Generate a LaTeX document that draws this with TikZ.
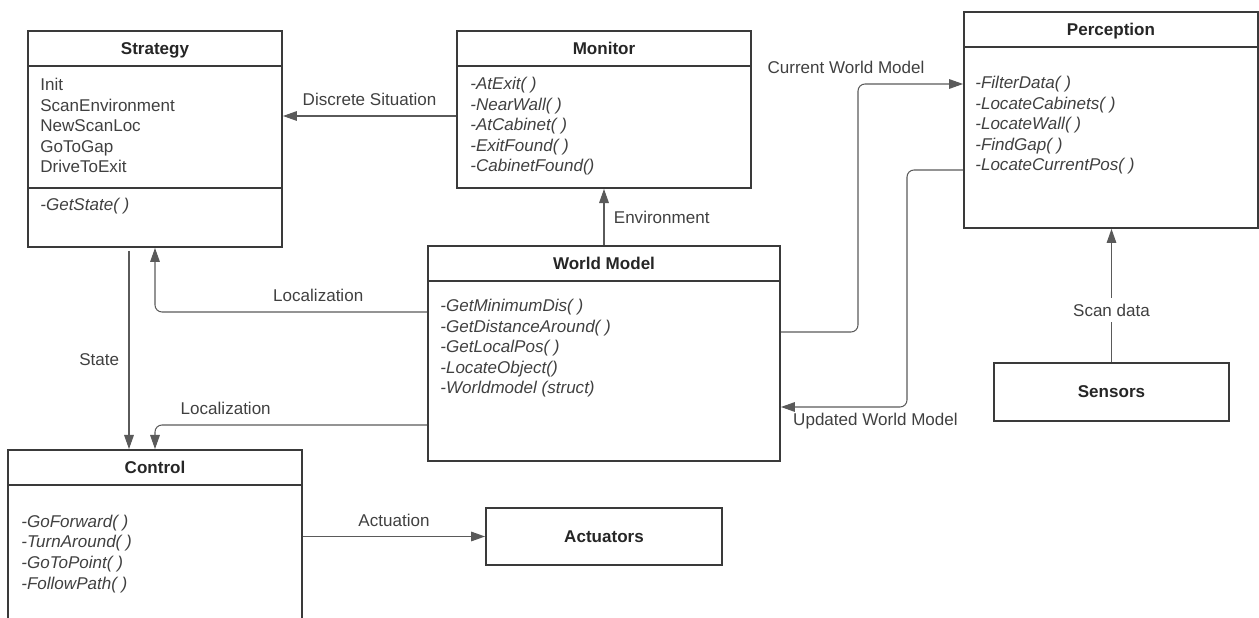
\documentclass[tikz,border=0pt]{standalone}
\usepackage{fontspec}
\setmainfont{Liberation Sans}
\usetikzlibrary{arrows.meta, calc, positioning}

\definecolor{boxgray}{HTML}{3A3A3A}
\definecolor{linegray}{HTML}{5A5A5A}
\definecolor{textgray}{HTML}{404040}

\tikzset{
  block/.style={draw=boxgray, line width=1.1pt, rectangle, inner sep=0pt},
  divider/.style={draw=boxgray, line width=1.1pt},
  title/.style={font=\fontsize{9.7}{12}\selectfont\bfseries, text=black!85, anchor=base},
  items/.style={font=\fontsize{9.7}{11.75}\selectfont, text=textgray, align=left, anchor=base west, inner sep=0pt},
  methods/.style={items, font=\fontsize{9.7}{11.75}\selectfont\itshape},
  flow/.style={draw=linegray, line width=0.6pt, ->, >={Triangle[length=8pt,width=5.5pt]}},
  lbl/.style={font=\fontsize{9.7}{12}\selectfont, text=textgray},
}

\begin{document}
\begin{tikzpicture}[x=0.02cm, y=-0.02cm]
\useasboundingbox (0,0) rectangle (1259,618);
\clip (0,0) rectangle (1259,618);

% boxes
\node[block, minimum width=5.08cm, minimum height=4.32cm] (strat) at (155,139) {};
\node[block, minimum width=5.88cm, minimum height=3.14cm] (mon) at (604,109.5) {};
\node[block, minimum width=5.88cm, minimum height=4.32cm] (perc) at (1111,120) {};
\node[block, minimum width=7.04cm, minimum height=4.30cm] (wm) at (604,353.5) {};
\node[block, minimum width=5.88cm, minimum height=4.32cm] (ctrl) at (155,558) {};
\node[block, title, anchor=center, minimum width=4.72cm, minimum height=1.14cm] (act) at (604,536.5) {Actuators};
\node[block, title, anchor=center, minimum width=4.70cm, minimum height=1.16cm] (sens) at (1111.5,392) {Sensors};

% titles and dividers
\node[title] at ($(strat.north)+(0,24)$) {Strategy};
\node[title] at ($(mon.north)+(0,24)$) {Monitor};
\node[title] at ($(perc.north)+(0,24)$) {Perception};
\node[title] at ($(wm.north)+(0,24)$) {World Model};
\node[title] at ($(ctrl.north)+(0,24)$) {Control};
\foreach \n in {strat,mon,perc,wm,ctrl}
  \draw[divider] ($(\n.north west)+(0,36)$) -- ($(\n.north east)+(0,36)$);
\draw[divider] ($(strat.north west)+(0,158)$) -- ($(strat.north east)+(0,158)$);

% contents (anchored at the baseline of the last line)
\node[items] (stratlist) at (40,173) {Init\\ScanEnvironment\\NewScanLoc\\GoToGap\\DriveToExit};
\node[methods] (stratops) at (40,211) {-GetState( )};
\node[methods] (monops) at (470,172) {-AtExit( )\\-NearWall( )\\-AtCabinet( )\\-ExitFound( )\\-CabinetFound()};
\node[methods] (percops) at (975,171) {-FilterData( )\\-LocateCabinets( )\\-LocateWall( )\\-FindGap( )\\-LocateCurrentPos( )};
\node[methods] (wmops) at (440,394) {-GetMinimumDis( )\\-GetDistanceAround( )\\-GetLocalPos( )\\-LocateObject()\\-Worldmodel (struct)};
\node[methods] (ctrlops) at (21,589) {-GoForward( )\\-TurnAround( )\\-GoToPoint( )\\-FollowPath( )};

% connectors
\draw[flow] (mon.west |- 0,116) -- (strat.east |- 0,116) node[lbl, midway, above=2pt] {Discrete Situation};
\draw[flow] (wm.north) -- (mon.south) node[lbl, midway, right=2pt] {Environment};
\draw[flow] ($(strat.south -| 129,0)+(0,3)$) -- (ctrl.north -| 129,0) node[lbl, pos=0.55, left=2pt] {State};
\draw[flow, rounded corners=4pt] (wm.west |- 0,312) -| (strat.south) node[lbl, pos=0.2, above=2pt] {Localization};
\draw[flow, rounded corners=4pt] (wm.west |- 0,425) -| (ctrl.north) node[lbl, pos=0.37, above=2pt] {Localization};
\draw[flow] (ctrl.east |- act.west) -- (act.west) node[lbl, midway, above=2pt] {Actuation};
\draw[flow, rounded corners=4pt] (wm.east |- 0,332) -| (858,84) -- (perc.west |- 0,84);
\node[lbl] (cwm) at (846,67) {Current World Model};
\draw[flow, rounded corners=4pt] (perc.west |- 0,170) -| (907,407) -- (wm.east |- 0,407) node[lbl, pos=0.25, below=0pt] {Updated World Model};
\draw[flow] (sens.north) -- (perc.south -| sens.north) node[lbl, pos=0.39, fill=white] {Scan data};
\end{tikzpicture}
\end{document}
